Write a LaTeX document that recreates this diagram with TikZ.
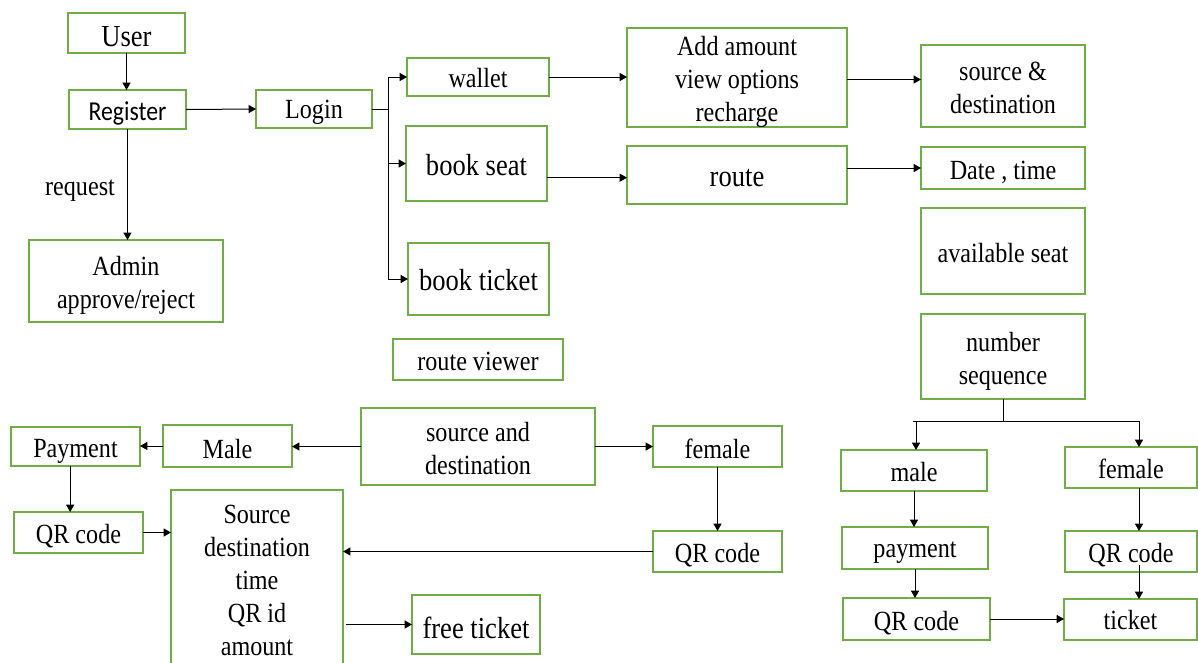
\documentclass[tikz,border=0pt]{standalone}
\usepackage{fontspec}
\setmainfont{Liberation Serif}[FakeStretch=0.87]
\newfontfamily\calib{Carlito}[FakeStretch=0.87]
\usetikzlibrary{arrows.meta}
\definecolor{bgreen}{RGB}{112,173,71}
\newcommand\normsz{\fontsize{20.8pt}{24.75pt}\selectfont}
\newcommand\bigsz{\fontsize{22.9pt}{25pt}\selectfont}
\tikzset{
  frame/.style={draw=bgreen, line width=1.5pt, inner sep=0pt, outer sep=0pt, fill=white},
  txt/.style={inner sep=0pt, align=center, font=\normsz},
  arr/.style={-{Triangle[length=5.5pt,width=6pt]}, line width=0.75pt},
  ln/.style={line width=0.75pt},
}
% [text shift], name, x1, y1, x2, y2, options, text
\newcommand\mybox[8][-2.6pt]{%
  \node[frame, minimum width={(#5-#3)*0.75pt}, minimum height={(#6-#4)*0.75pt}]
    (#2) at ({(#3+#5)/2},{(#4+#6)/2}) {};
  \node[txt, #7] (#2-t) at ([yshift=#1]#2.center) {#8};}
\begin{document}
\begin{tikzpicture}[x=0.75pt,y=-0.75pt]
\useasboundingbox (0,0) rectangle (1198,662);
\clip (0,0) rectangle (1198,662);
% top-left
\mybox{user}{68}{13}{185}{53}{font=\bigsz}{User}
\mybox{reg}{69}{90}{186}{129}{font=\calib\fontsize{20.5pt}{24pt}\selectfont}{Register}
\mybox{login}{256}{90}{372}{128}{}{Login}
\mybox[-3pt]{admin}{29}{240}{223}{322}{}{Admin\\approve/reject}
\node[txt] (req) at (80,191) {request};
% login branches
\mybox[-1pt]{wallet}{407}{58}{549}{96}{}{wallet}
\mybox[-1.5pt]{bseat}{406}{126}{547}{201}{font=\bigsz}{book seat}
\mybox[-1pt]{bticket}{408}{243}{549}{315}{font=\bigsz}{book ticket}
\mybox[-1.5pt]{rview}{393}{339}{563}{380}{}{route viewer}
\mybox[-3.2pt]{add}{627}{28}{847}{127}{}{Add amount\\view options\\recharge}
\mybox{route}{627}{146}{847}{204}{font=\bigsz}{route}
% right column
\mybox[-1.5pt]{srcd}{921}{45}{1085}{127}{}{source \&\\destination}
\mybox[-3pt]{date}{921}{147}{1085}{189}{}{Date , time}
\mybox[-1.5pt]{avail}{921}{208}{1085}{294}{}{available seat}
\mybox[-3.5pt]{nseq}{921}{314}{1085}{399}{}{number\\sequence}
\mybox[-1pt]{maleR}{841}{450}{987}{491}{}{male}
\mybox[-1pt]{femR}{1065}{447}{1197}{488}{}{female}
\mybox[-3.5pt]{payR}{842}{527}{988}{569}{}{payment}
\mybox[-3pt]{qrR}{1065}{531}{1197}{572}{}{QR code}
\mybox[-3pt]{qrM}{843}{598}{990}{640}{}{QR code}
\mybox[-0.5pt]{ticket}{1064}{599}{1197}{640}{}{ticket}
% bottom-left
\mybox[-1.5pt]{sad}{361}{408}{595}{485}{}{source and\\destination}
\mybox[-2.2pt]{maleL}{163}{425}{292}{467}{}{Male}
\mybox[-3.5pt]{payL}{11}{427}{140}{466}{}{Payment}
\mybox[-1.5pt]{femL}{653}{426}{782}{467}{}{female}
\mybox[-3pt]{qrL}{14}{512}{143}{553}{}{QR code}
\mybox[-3pt]{qrF}{653}{531}{782}{572}{}{QR code}
\mybox[3pt]{big}{171}{490}{343}{678}{}{Source\\destination\\time\\QR id\\amount}
\mybox[-2.2pt]{free}{412}{595}{540}{654}{font=\bigsz}{free ticket}
% connectors top-left
\draw[arr] (user.south) -- (user.south |- reg.north);
\draw[arr] (reg.east) -- (login.west);
\draw[arr] (reg.south) -- (reg.south |- admin.north);
% login bus
\coordinate (lb) at (388,109);
\draw[ln] (login.east) -- (lb);
\draw[ln] (lb |- wallet.west) -- (lb |- bticket.west);
\draw[arr] (lb |- wallet.west) -- (wallet.west);
\draw[arr] (lb |- bseat.west) -- (bseat.west);
\draw[arr] (lb |- bticket.west) -- (bticket.west);
\draw[arr] (wallet.east) -- (wallet.east -| add.west);
\draw[arr] ([yshift=-1.5pt]add.east) -- ([yshift=-1.5pt]add.east -| srcd.west);
\draw[arr] ([yshift=-2pt]bseat.east |- route.west) -- ([yshift=-2pt]route.west);
\draw[arr] (route.east |- date.west) -- (date.west);
% number sequence split
\coordinate (nb) at (1003,421);
\coordinate (mj) at (916,421);
\coordinate (fj) at (1139,421);
\draw[ln] (nseq.south) -- (nb);
\draw[ln] (913,421) -- (1140,421);
\draw[arr] (mj) -- (mj |- maleR.north);
\draw[arr] (fj) -- (fj |- femR.north);
\draw[arr] (maleR.south) -- (maleR.south |- payR.north);
\draw[arr] (payR.south) -- (payR.south |- qrM.north);
\draw[arr] (femR.south -| fj) -- (qrR.north -| fj);
\draw[arr] ([yshift=5pt]qrR.south -| fj) -- (ticket.north -| fj);
\draw[arr] (qrM.east) -- (qrM.east -| ticket.west);
% bottom-left connectors
\draw[arr] (sad.west) -- (sad.west -| maleL.east);
\draw[arr] (maleL.west) -- (maleL.west -| payL.east);
\draw[arr] (sad.east) -- (sad.east -| femL.west);
\draw[arr] ([xshift=-4pt]payL.south) -- ([xshift=-4pt]payL.south |- qrL.north);
\draw[arr] (qrL.east) -- (qrL.east -| big.west);
\draw[arr] (femL.south) -- (femL.south |- qrF.north);
\draw[arr] (qrF.west) -- (qrF.west -| big.east);
\draw[arr] ([xshift=2pt]free.west -| big.east) -- (free.west);
\end{tikzpicture}
\end{document}
